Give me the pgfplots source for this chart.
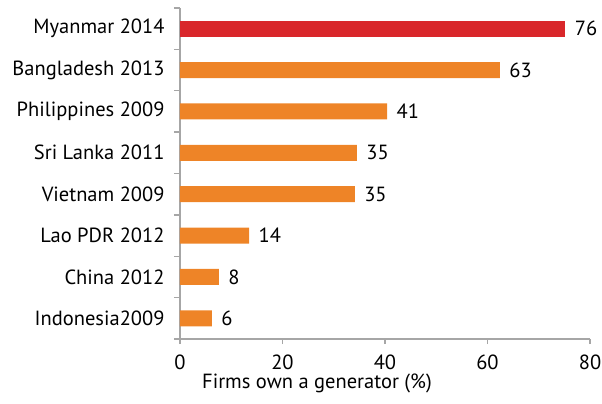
\documentclass[border=0pt]{standalone}
\usepackage{pgfplots}
\pgfplotsset{compat=1.18}
\usepackage{fontspec}
\setmainfont{PT Sans}
\definecolor{barred}{HTML}{D9272B}
\definecolor{barorange}{HTML}{EE8427}
\definecolor{axgray}{HTML}{A6A6A6}
\begin{document}
\begin{tikzpicture}
\begin{axis}[
  at={(0pt,0pt)}, anchor=south west,
  scale only axis, width=410pt, height=331pt,
  xbar, bar width=16pt, bar shift=0pt,
  xmin=0, xmax=80, ymin=-0.5, ymax=7.5,
  xtick={0,20,40,60,80},
  ytick={0,...,7},
  yticklabels={Indonesia2009,China 2012,Lao PDR 2012,Vietnam 2009,Sri Lanka 2011,Philippines 2009,Bangladesh 2013,Myanmar 2014},
  minor ytick={-0.5,0.5,...,7.5},
  axis x line*=bottom, axis y line*=left,
  axis line style={axgray, line width=1.3pt, -},
  major tick style={axgray, line width=1.3pt},
  minor tick style={axgray, line width=1.3pt},
  ytick style={draw=none},
  minor y tick style={draw=axgray},
  tick align=outside,
  major tick length=5pt, minor tick length=6pt,
  font=\fontsize{20.5}{24}\selectfont,
  ticklabel style={font=\fontsize{20.5}{24}\selectfont},
  yticklabel style={xshift=-7pt},
  xticklabel style={yshift=-7pt},
  xlabel={Firms own a generator (\%)},
  xlabel style={font=\fontsize{20.5}{24}\selectfont, at={(axis description cs:0.5,0)}, anchor=center, yshift=-44pt, xshift=-68pt},
  /pgf/number format/assume math mode=true,
  nodes near coords,
  point meta=explicit symbolic,
  nodes near coords style={anchor=west, xshift=6pt, font=\fontsize{20.5}{24}\selectfont, text=black},
  clip=false,
]
\addplot[fill=barorange, draw=none] coordinates {
  (6.2,0) [6]
  (7.6,1) [8]
  (13.5,2) [14]
  (34.1,3) [35]
  (34.5,4) [35]
  (40.4,5) [41]
  (62.4,6) [63]
};
\addplot[fill=barred, draw=none] coordinates {
  (75.2,7) [76]
};
\end{axis}
\pgfresetboundingbox
\path (-180pt,-65pt) rectangle (422pt,339pt);
\end{tikzpicture}
\end{document}
